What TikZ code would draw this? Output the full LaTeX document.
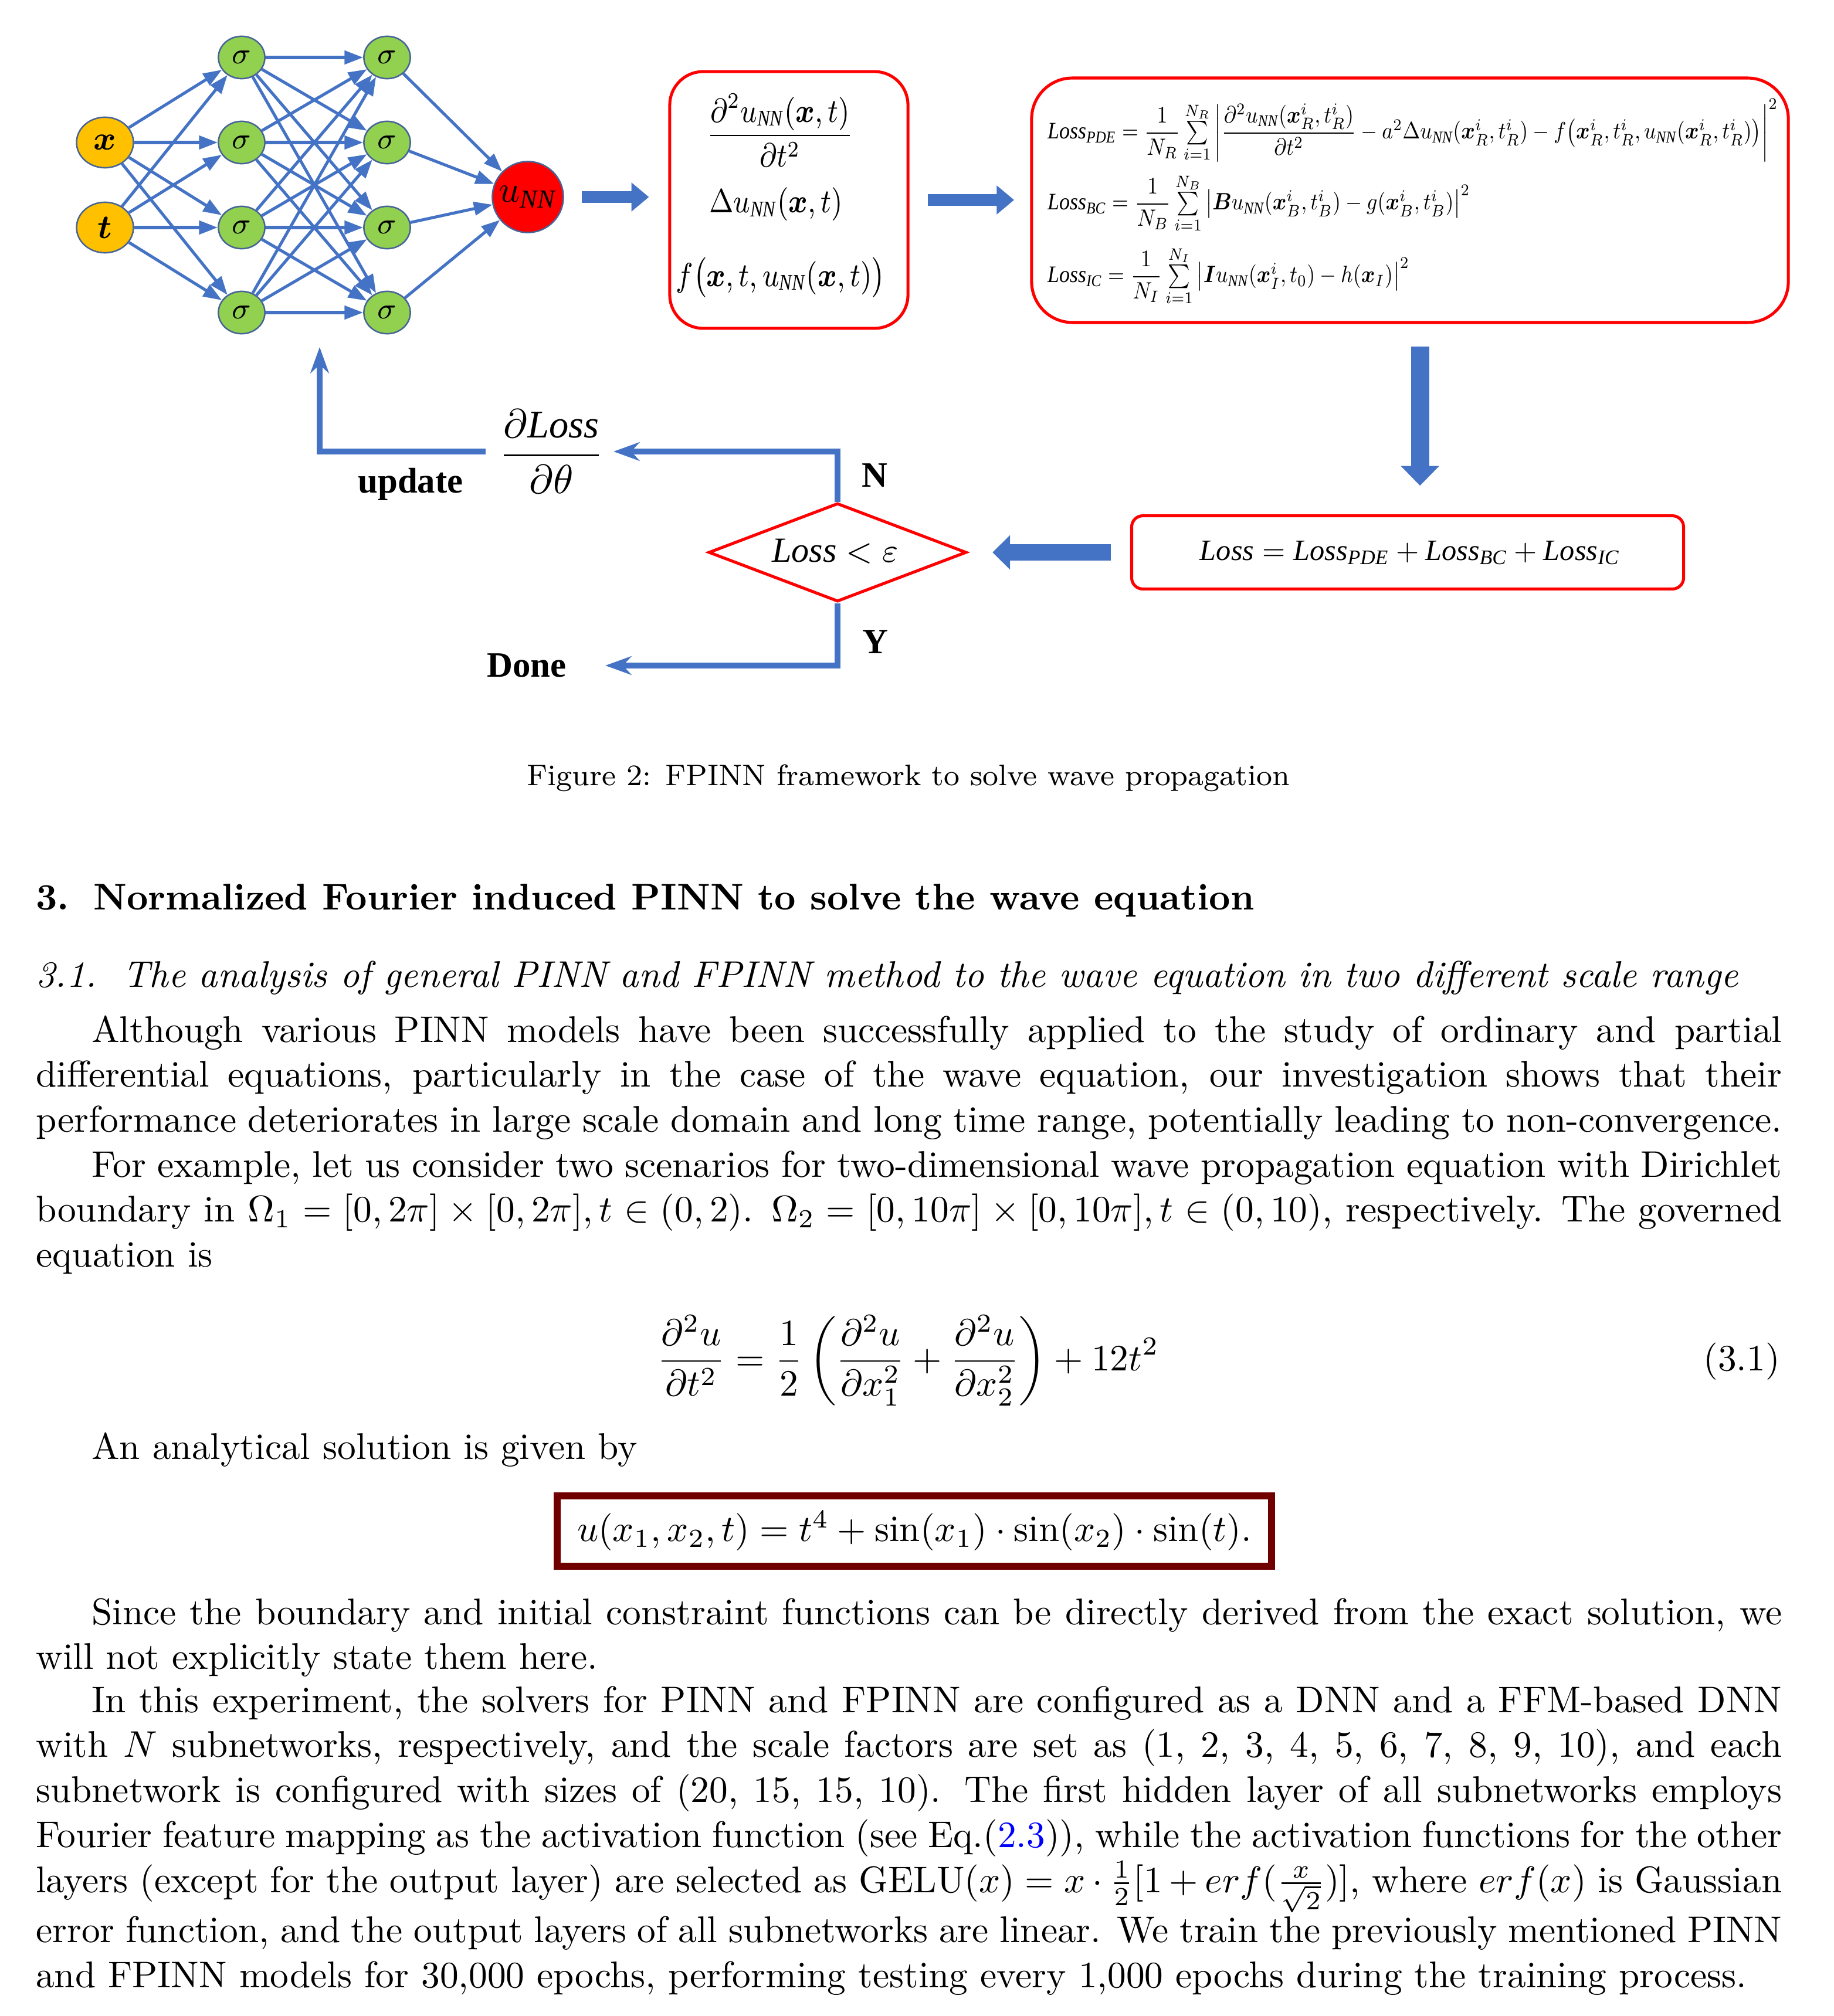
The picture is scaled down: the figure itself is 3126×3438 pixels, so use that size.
\documentclass[tikz,border=0pt]{standalone}
\usepackage{amsmath}
\usepackage{fontspec}
\usepackage{graphicx}
\usetikzlibrary{arrows.meta,shapes.geometric,calc}
\newfontfamily\tnr{Liberation Serif}
\definecolor{netblue}{RGB}{68,114,196}
\definecolor{nodeedge}{RGB}{70,100,150}
\definecolor{yel}{RGB}{255,192,0}
\definecolor{grn}{RGB}{146,208,80}
\definecolor{solred}{RGB}{112,0,0}
\newcommand\tnl[1]{\text{\tnr\itshape #1}}
\newcommand\bxx{\boldsymbol{x}}
\newcommand\uNN{u_{\text{\tnr\itshape NN}}}
\newcommand\bodypar[1]{\parbox[t]{469.8pt}{\fontsize{10}{12.12}\selectfont #1}}
\newcommand\boxone[1]{\scalebox{0.85}[1]{\fontsize{8.6}{10}\selectfont$#1$}}
\newsavebox\lossA
\newsavebox\lossB
\newsavebox\lossC
\newdimen\lossW
\begin{document}
\sbox\lossA{$\tnl{Loss}_{\tnl{PDE}}=\dfrac{1}{N_R}\sum\limits_{i=1}^{N_R}\left|\dfrac{\partial^2 \uNN(\bxx_R^i,t_R^i)}{\partial t^2}-a^2\Delta \uNN(\bxx_R^i,t_R^i)-f\big(\bxx_R^i,t_R^i,\uNN(\bxx_R^i,t_R^i)\big)\right|^2$}%
\sbox\lossB{$\tnl{Loss}_{\tnl{BC}}=\dfrac{1}{N_B}\sum\limits_{i=1}^{N_B}\left|\boldsymbol{B}\uNN(\bxx_B^i,t_B^i)-g(\bxx_B^i,t_B^i)\right|^2$}%
\sbox\lossC{$\tnl{Loss}_{\tnl{IC}}=\dfrac{1}{N_I}\sum\limits_{i=1}^{N_I}\left|\boldsymbol{I}\uNN(\bxx_I^i,t_0)-h(\bxx_I)\right|^2$}%
\lossW=\wd\lossA
\pgfmathsetmacro\lsc{196.5/\lossW}%
\pgfmathsetmacro\lscv{1.12*\lsc}%
\begin{tikzpicture}[x=0.1578pt,y=-0.1578pt,
  inp/.style={ellipse,draw=nodeedge,line width=0.4pt,fill=yel,minimum width=15.3pt,minimum height=13.6pt,inner sep=0pt,font=\small},
  hid/.style={ellipse,draw=nodeedge,line width=0.4pt,fill=grn,minimum width=12.5pt,minimum height=11.4pt,inner sep=0pt,font=\footnotesize},
  outn/.style={circle,draw=nodeedge,line width=0.4pt,fill=red,minimum size=19.1pt,inner sep=0pt},
  conn/.style={draw=netblue,line width=0.8pt,-{Triangle[length=5pt,width=3.6pt]}},
  flow/.style={draw=netblue,line width=1.6pt,-{Stealth[length=7pt,width=5pt]}},
  blk/.style={draw=netblue,line width=3.3pt,-{Triangle[length=4.7pt,width=7.5pt]}},
  redbox/.style={draw=red,line width=0.8pt},
  txt/.style={inner sep=0pt,anchor=base west},
  lbl/.style={inner sep=0pt,font=\fontsize{9.6}{11}\tnr\bfseries}
]
\fill[white] (0,0) rectangle (3126,3438);
\useasboundingbox (0,0) rectangle (3126,3438);

% ---------- network ----------
\node[inp] (x) at (179,243) {$\boldsymbol{x}$};
\node[inp] (t) at (179,388) {$\boldsymbol{t}$};
\foreach \i/\yy in {1/98,2/243,3/388,4/533}{
  \node[hid] (a\i) at (412,\yy) {$\sigma$};
  \node[hid] (b\i) at (660,\yy) {$\sigma$};
}
\node[outn] (u) at (900,336) {\fontsize{10}{12}\selectfont$\uNN$};
\foreach \s in {x,t}{\foreach \i in {1,...,4}{\draw[conn] (\s) -- (a\i);}}
\foreach \i in {1,...,4}{\foreach \j in {1,...,4}{\draw[conn] (a\i) -- (b\j);}}
\foreach \j in {1,...,4}{\draw[conn] (b\j) -- (u);}

% ---------- box 1 ----------
\node[redbox,rounded corners=9pt,minimum width=64.1pt,minimum height=69.1pt] (box1) at (1345,341) {};
\node[inner sep=0pt] (d2) at (1330,222) {\boxone{\dfrac{\partial^2 \uNN(\bxx,t)}{\partial t^2}}};
\node[inner sep=0pt,anchor=base] (lap) at (1323,363) {\boxone{\Delta \uNN(\bxx,t)}};
\node[inner sep=0pt,anchor=base] (ff) at (1331,488) {\boxone{f\big(\bxx,t,\uNN(\bxx,t)\big)}};

% ---------- box 2 ----------
\node[redbox,rounded corners=11pt,minimum width=203.6pt,minimum height=65.8pt] (box2) at (2404,341.5) {};
\node[txt] (lpde) at (1785,237) {\scalebox{\lsc}[\lscv]{\usebox\lossA}};
\node[txt] (lbc) at (1785,358) {\scalebox{\lsc}[\lscv]{\usebox\lossB}};
\node[txt] (lic) at (1785,482) {\scalebox{\lsc}[\lscv]{\usebox\lossC}};

% ---------- loss box, diamond ----------
\node[redbox,rounded corners=3pt,minimum width=148.5pt,minimum height=19.7pt] (lbox) at (2400,942) {};
\node[inner sep=0pt,anchor=base] (ltot) at (2404,955) {\resizebox{113pt}{!}{$\tnl{Loss}=\tnl{Loss}_{\tnl{PDE}}+\tnl{Loss}_{\tnl{BC}}+\tnl{Loss}_{\tnl{IC}}$}};
\node[redbox,diamond,minimum width=69.4pt,minimum height=26.5pt,inner sep=0pt] (dia) at (1428,942) {};
\node[inner sep=0pt,anchor=base] (cond) at (1424,958) {\fontsize{9.5}{11}\selectfont$\tnl{Loss}<\varepsilon$};

% ---------- labels ----------
\node[inner sep=0pt] (grad) at (940,770) {\fontsize{10.5}{12}\selectfont$\dfrac{\partial\tnl{Loss}}{\partial\theta}$};
\node[lbl] (updlbl) at (700,826) {update};
\node[lbl] (nlbl) at (1491,811) {N};
\node[lbl] (ylbl) at (1492,1095) {Y};
\node[lbl] (done) at (898,1135) {Done};
\coordinate (netin) at (545,592);

% ---------- block arrows ----------
\draw[blk,shorten <=4.8pt,shorten >=5.2pt] (u.east) -- (u.east -| box1.west);
\draw[blk,shorten <=5pt,shorten >=4.3pt] (box1.east) -- (box1.east -| box2.west);
\draw[blk,line width=4.9pt,-{Triangle[length=5.3pt,width=10pt]},shorten <=6pt,shorten >=7.7pt] ([xshift=2.7pt]box2.south) -- ([xshift=2.7pt]box2.south |- lbox.north);
\draw[blk,line width=4.3pt,-{Triangle[length=4.7pt,width=9pt]},shorten <=5.2pt,shorten >=6.6pt] (lbox.west) -- (dia.east);

% ---------- flow arrows ----------
\draw[flow,shorten >=2.5pt] (dia.north) |- (grad.east);
\draw[flow,shorten <=3.4pt] (grad.west) -| (netin);
\draw[flow,shorten >=10.3pt] (dia.south) |- (done.east);

% ---------- caption and text ----------
\node[inner sep=0pt,anchor=base] (cap) at (1549,1339) {\footnotesize Figure 2: FPINN framework to solve wave propagation};
\node[txt] (sec) at (60,1551) {\bfseries 3.\hspace{6.5pt}Normalized Fourier induced PINN to solve the wave equation};
\node[txt] (subsec) at (60,1683) {\itshape 3.1.\hspace{7pt}The analysis of general PINN and FPINN method to the wave equation in two different scale range};
\node[txt] (p1) at (60,1777) {\bodypar{\hspace*{15pt}Although various PINN models have been successfully applied to the study of ordinary and partial\linebreak differential equations, particularly in the case of the wave equation, our investigation shows that their\linebreak performance deteriorates in large scale domain and long time range, potentially leading to non-convergence.}};
\node[txt] (p2) at (60,2007) {\bodypar{\hspace*{15pt}For example, let us consider two scenarios for two-dimensional wave propagation equation with Dirichlet\linebreak boundary in $\Omega_1=[0,2\pi]\times[0,2\pi],t\in(0,2)$. $\Omega_2=[0,10\pi]\times[0,10\pi],t\in(0,10)$, respectively. The governed\linebreak equation is}};
\node[inner sep=0pt,anchor=base] (eq) at (1548,2337) {$\displaystyle\frac{\partial^2 u}{\partial t^2}=\frac{1}{2}\left(\frac{\partial^2 u}{\partial x_1^2}+\frac{\partial^2 u}{\partial x_2^2}\right)+12t^2$};
\node[inner sep=0pt,anchor=base east] (tag) at (3036,2337) {(3.1)};
\node[txt] (p3) at (60,2488) {\bodypar{\hspace*{15pt}An analytical solution is given by}};
\node[draw=solred,line width=1.9pt,minimum width=192.2pt,minimum height=18.9pt,inner sep=0pt] (sol) at (1559,2611) {$u(x_1,x_2,t)=t^4+\sin(x_1)\cdot\sin(x_2)\cdot\sin(t).$};
\node[txt] (p4) at (60,2770) {\bodypar{\hspace*{15pt}Since the boundary and initial constraint functions can be directly derived from the exact solution, we\linebreak will not explicitly state them here.}};
\node[txt] (p5) at (60,2920) {\bodypar{\hspace*{15pt}In this experiment, the solvers for PINN and FPINN are configured as a DNN and a FFM-based DNN\linebreak with $N$ subnetworks, respectively, and the scale factors are set as (1, 2, 3, 4, 5, 6, 7, 8, 9, 10), and each\linebreak subnetwork is configured with sizes of (20, 15, 15, 10). The first hidden layer of all subnetworks employs\linebreak Fourier feature mapping as the activation function (see Eq.(\textcolor{blue}{2.3})), while the activation functions for the other\linebreak layers (except for the output layer) are selected as GELU$(x)=x\cdot\frac{1}{2}[1+erf(\frac{x}{\sqrt{2}})]$, where $erf(x)$ is Gaussian\linebreak error function, and the output layers of all subnetworks are linear. We train the previously mentioned PINN\linebreak and FPINN models for 30,000 epochs, performing testing every 1,000 epochs during the training process.}};
\end{tikzpicture}
\end{document}
